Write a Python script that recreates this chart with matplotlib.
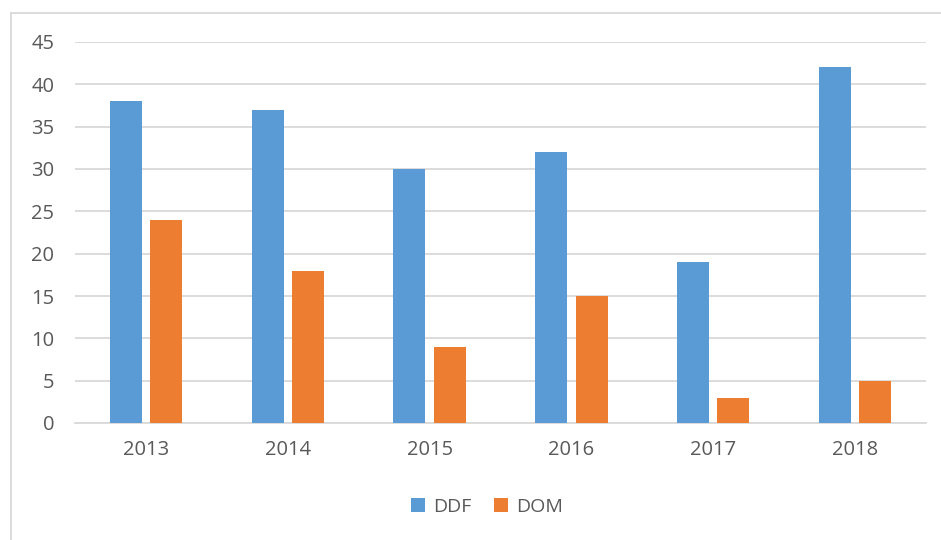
import numpy as np
import matplotlib
matplotlib.use("Agg")
import matplotlib.pyplot as plt
from matplotlib.lines import Line2D

years = ["2013", "2014", "2015", "2016", "2017", "2018"]
ddf = [38, 37, 30, 32, 19, 42]
dom = [24, 18, 9, 15, 3, 5]
y_ticks = [0, 5, 10, 15, 20, 25, 30, 35, 40, 45]

blue = "#5B9BD5"
orange = "#ED7D31"
grey_txt = "#595959"
grid_c = "#D9D9D9"

plt.rcParams["font.family"] = ["Open Sans", "DejaVu Sans"]

fig = plt.figure(figsize=(9.41, 5.4), dpi=100)
ax = fig.add_axes([75 / 941, 1 - 423 / 540, (926 - 75) / 941, (423 - 42) / 540])

x = np.arange(len(years))
w = 0.225
ax.bar(x - 0.142, ddf, width=w, color=blue, label="DDF", zorder=3)
ax.bar(x + 0.142, dom, width=w, color=orange, label="DOM", zorder=3)

ax.set_xlim(-0.5, len(years) - 0.5)
ax.set_ylim(0, 45)
ax.set_yticks(y_ticks)
ax.set_xticks(x)
ax.set_xticklabels(years)
ax.yaxis.grid(True, color=grid_c, linewidth=1.3, zorder=0)
ax.set_axisbelow(True)
for s in ["top", "right", "left"]:
    ax.spines[s].set_visible(False)
ax.spines["bottom"].set_color(grid_c)
ax.spines["bottom"].set_linewidth(1.3)
ax.tick_params(axis="both", length=0, labelsize=14.5, colors=grey_txt)
ax.tick_params(axis="y", pad=15)
ax.tick_params(axis="x", pad=12)

leg = fig.legend(loc="center", bbox_to_anchor=(487 / 941, 1 - 507 / 540), ncol=2,
                 frameon=False, fontsize=14, handlelength=0.7, handleheight=0.7,
                 handletextpad=0.4, columnspacing=1.2)
for t in leg.get_texts():
    t.set_color(grey_txt)

# chart border (outer frame)
fig.add_artist(Line2D([11 / 941, 11 / 941], [0, 1 - 13 / 540], color=grid_c, linewidth=1.3))
fig.add_artist(Line2D([11 / 941, 1], [1 - 13 / 540, 1 - 13 / 540], color=grid_c, linewidth=1.3))

fig.savefig("out.png", dpi=100)
